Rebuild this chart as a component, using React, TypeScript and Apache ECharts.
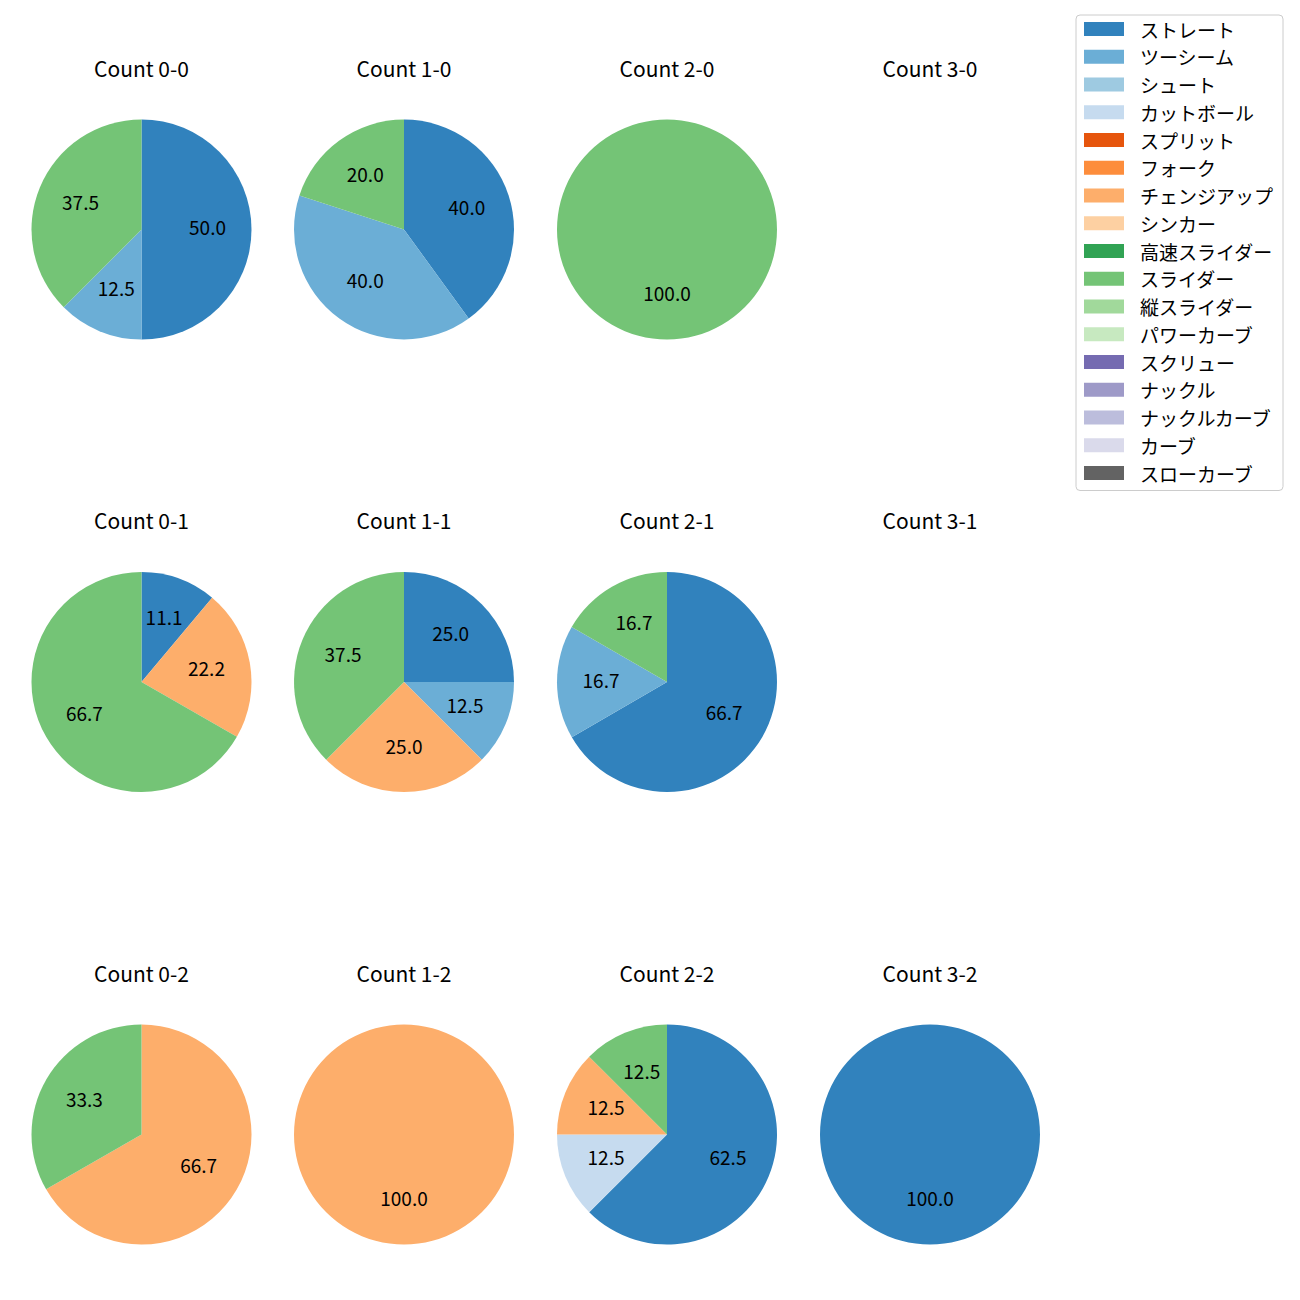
import React, { useEffect, useRef } from "react";
import * as echarts from "echarts";

const categories = [
  "ストレート", "ツーシーム", "シュート", "カットボール", "スプリット", "フォーク",
  "チェンジアップ", "シンカー", "高速スライダー", "スライダー", "縦スライダー",
  "パワーカーブ", "スクリュー", "ナックル", "ナックルカーブ", "カーブ", "スローカーブ",
];
const colors = [
  "#3182bd", "#6baed6", "#9ecae1", "#c6dbef", "#e6550d", "#fd8d3c",
  "#fdae6b", "#fdd0a2", "#31a354", "#74c476", "#a1d99b",
  "#c7e9c0", "#756bb1", "#9e9ac8", "#bcbddc", "#dadaeb", "#636363",
];

const panelTitles = [
  "Count 0-0", "Count 1-0", "Count 2-0", "Count 3-0",
  "Count 0-1", "Count 1-1", "Count 2-1", "Count 3-1",
  "Count 0-2", "Count 1-2", "Count 2-2", "Count 3-2",
];
const count00: [string, number][] = [["ストレート", 50.0], ["ツーシーム", 12.5], ["スライダー", 37.5]];
const count10: [string, number][] = [["ストレート", 40.0], ["ツーシーム", 40.0], ["スライダー", 20.0]];
const count20: [string, number][] = [["スライダー", 100.0]];
const count30: [string, number][] = [];
const count01: [string, number][] = [["ストレート", 11.1], ["チェンジアップ", 22.2], ["スライダー", 66.7]];
const count11: [string, number][] = [["ストレート", 25.0], ["ツーシーム", 12.5], ["チェンジアップ", 25.0], ["スライダー", 37.5]];
const count21: [string, number][] = [["ストレート", 66.7], ["ツーシーム", 16.7], ["スライダー", 16.7]];
const count31: [string, number][] = [];
const count02: [string, number][] = [["チェンジアップ", 66.7], ["スライダー", 33.3]];
const count12: [string, number][] = [["チェンジアップ", 100.0]];
const count22: [string, number][] = [["ストレート", 62.5], ["カットボール", 12.5], ["チェンジアップ", 12.5], ["スライダー", 12.5]];
const count32: [string, number][] = [["ストレート", 100.0]];
const panelData = [count00, count10, count20, count30, count01, count11, count21, count31, count02, count12, count22, count32];

const colX = [141.5, 404, 667, 930];
const rowY = [229.5, 682, 1134.5];
const R = 110;
const FONT = '"Noto Sans CJK JP", "Noto Sans", sans-serif';

export default function App() {
  const ref = useRef<HTMLDivElement>(null);
  useEffect(() => {
    document.body.style.margin = "0";
    const chart = echarts.init(ref.current!, null, { renderer: "svg" });
    const colorOf = (n: string) => colors[categories.indexOf(n)];
    const series: any[] = [
      {
        type: "pie",
        name: "legend",
        radius: [0, 0],
        center: [-500, -500],
        silent: true,
        label: { show: false },
        labelLine: { show: false },
        data: categories.map((c, i) => ({ name: c, value: 1, itemStyle: { color: colors[i] } })),
      },
    ];
    const graphics: any[] = [];
    panelTitles.forEach((t, idx) => {
      const cx = colX[idx % 4];
      const cy = rowY[Math.floor(idx / 4)];
      graphics.push({
        type: "text",
        x: cx,
        y: cy - 162,
        style: { text: t, fill: "#000", font: `21px ${FONT}`, textAlign: "center", textVerticalAlign: "middle" },
      });
      const d = panelData[idx];
      if (!d.length) return;
      const items = d.map(([n, v]) => ({ name: n, value: v, itemStyle: { color: colorOf(n) } }));
      series.push({
        type: "pie",
        center: [cx, cy],
        radius: [0, R],
        startAngle: 90,
        clockwise: true,
        silent: true,
        emphasis: { disabled: true },
        itemStyle: { borderWidth: 0 },
        label: { show: false },
        labelLine: { show: false },
        data: items,
      });
      series.push({
        type: "pie",
        center: [cx, cy],
        radius: [16, R],
        startAngle: 90,
        clockwise: true,
        silent: true,
        emphasis: { disabled: true },
        itemStyle: { color: "rgba(0,0,0,0)", borderWidth: 0 },
        label: {
          show: true,
          position: "inside",
          color: "#000",
          fontSize: 19,
          fontFamily: FONT,
          offset: [0, -3],
          formatter: (p: any) => Number(p.value).toFixed(1),
        },
        labelLine: { show: false },
        data: d.map(([n, v]) => ({ name: n, value: v, itemStyle: { color: "rgba(0,0,0,0)" } })),
      });
    });
    chart.setOption({
      animation: false,
      backgroundColor: "#ffffff",
      legend: {
        orient: "vertical",
        left: 1076,
        top: 15,
        padding: [4, 10, 7.5, 8],
        itemWidth: 40,
        itemHeight: 14,
        itemGap: 7.75,
        icon: "rect",
        borderColor: "#cccccc",
        borderWidth: 1,
        borderRadius: 4,
        selectedMode: false,
        textStyle: { fontSize: 19, fontFamily: FONT, color: "#000", lineHeight: 20, padding: [0, 0, 0, 11] },
        data: categories.map((c, i) => ({ name: c, itemStyle: { color: colors[i] } })),
      },
      graphic: graphics,
      series,
    });
    return () => chart.dispose();
  }, []);
  return <div ref={ref} style={{ width: 1300, height: 1300 }} />;
}
